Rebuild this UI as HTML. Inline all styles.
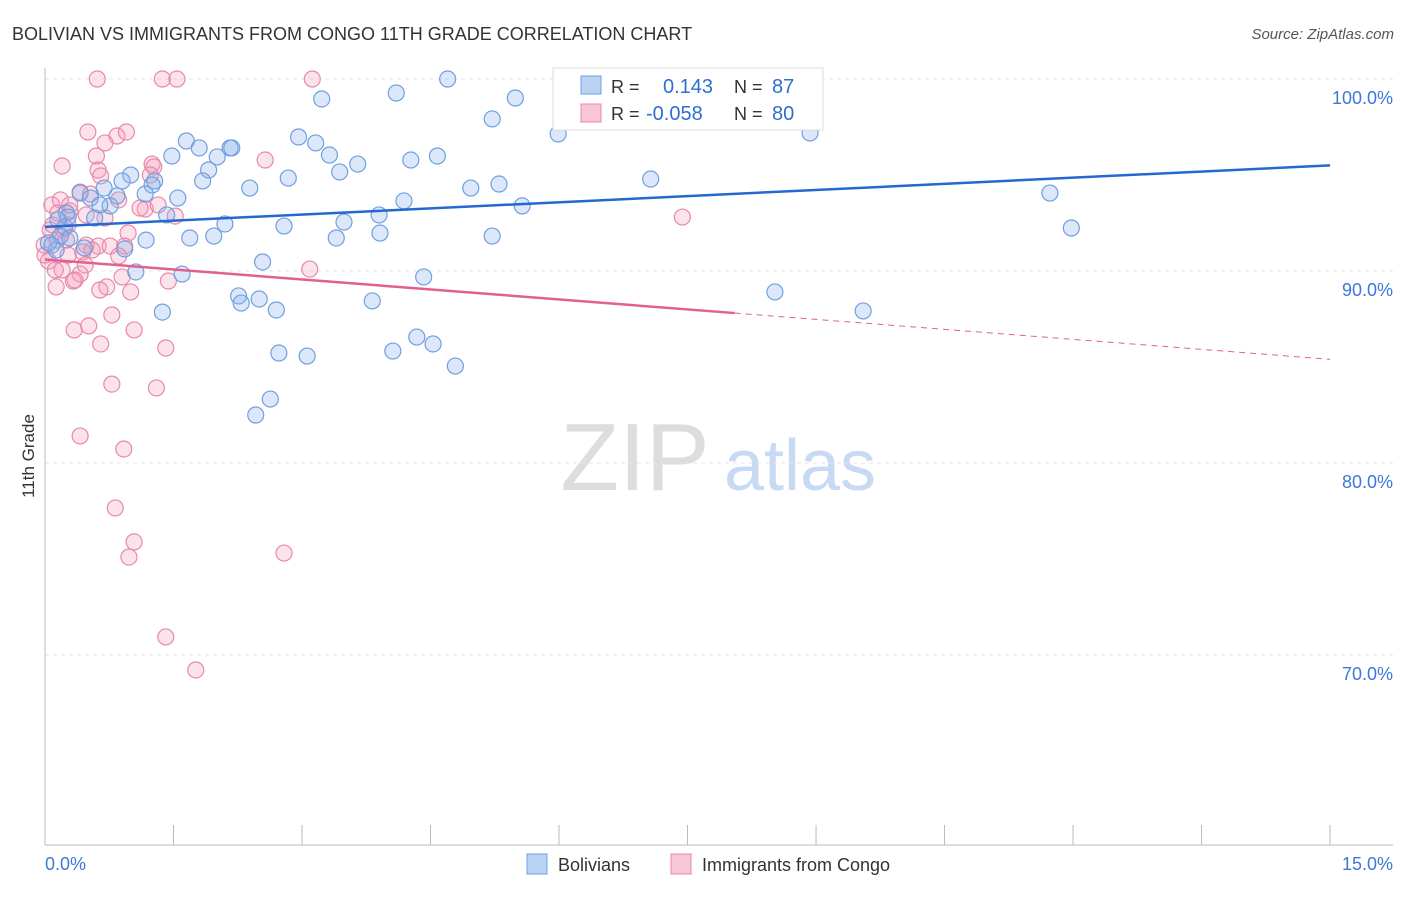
<!DOCTYPE html>
<html><head><meta charset="utf-8"><style>
body{margin:0;background:#fff;font-family:"Liberation Sans",sans-serif;}
svg text{font-family:"Liberation Sans",sans-serif;}
</style></head><body>
<svg id="c" width="1406" height="892">
<text x="12" y="40" font-size="18" fill="#333">BOLIVIAN VS IMMIGRANTS FROM CONGO 11TH GRADE CORRELATION CHART</text>
<text x="1394" y="39" font-size="15" fill="#555" font-style="italic" text-anchor="end">Source: ZipAtlas.com</text>
<text x="0" y="0" transform="translate(34,456) rotate(-90)" font-size="17" fill="#333" text-anchor="middle">11th Grade</text>
<g><text x="635" y="490" font-size="96" fill="#ddd" font-family="Liberation Serif" text-anchor="middle">ZIP</text><text x="800" y="490" font-size="72" fill="#c8daf3" text-anchor="middle">atlas</text></g>
<g id="grid"></g><g id="pts"></g><g id="lines"></g>
<g>
<rect x="553" y="68" width="270" height="62" fill="#fff" stroke="#ddd"/>
<rect x="581" y="76" width="20" height="18" fill="#b9d3f5" stroke="#6f9fe0"/>
<rect x="581" y="104" width="20" height="18" fill="#f9c6d6" stroke="#e889aa"/>
<text x="611" y="93" font-size="18" fill="#333">R = </text><text x="663" y="93" font-size="20" fill="#2f6fd1">0.143</text>
<text x="734" y="93" font-size="18" fill="#333">N = </text><text x="772" y="93" font-size="20" fill="#2f6fd1">87</text>
<text x="611" y="120" font-size="18" fill="#333">R = </text><text x="646" y="120" font-size="20" fill="#2f6fd1">-0.058</text>
<text x="734" y="120" font-size="18" fill="#333">N = </text><text x="772" y="120" font-size="20" fill="#2f6fd1">80</text>
</g>
<g>
<rect x="527" y="854" width="20" height="20" fill="#b9d3f5" stroke="#6f9fe0"/><text x="558" y="871" font-size="18" fill="#333">Bolivians</text>
<rect x="671" y="854" width="20" height="20" fill="#f9c6d6" stroke="#e889aa"/><text x="702" y="871" font-size="18" fill="#333">Immigrants from Congo</text>
</g>
</svg>
<script>
const yTicks=[100,90,80,70];
const yTickLabels=["100.0%","90.0%","80.0%","70.0%"];
const xTickLabels=["0.0%","15.0%"];
const bluePx=[[448,79],[738,79],[396,93],[322,99],[515,98],[492,119],[558,134],[810,133],[299,137],[186,141],[316,143],[230,148],[199,148],[172,156],[329,155],[217,157],[437,156],[411,160],[358,164],[340,172],[209,170],[131,175],[288,178],[122,181],[155,181],[152,185],[203,181],[651,179],[250,188],[104,188],[471,188],[499,184],[80,193],[145,194],[117,196],[178,198],[1050,193],[404,201],[110,206],[522,206],[66,213],[167,215],[379,215],[225,224],[284,226],[344,222],[65,227],[1071,228],[60,236],[380,233],[492,236],[146,240],[190,238],[214,236],[336,238],[52,245],[84,248],[125,249],[56,250],[263,262],[136,272],[182,274],[424,277],[239,296],[241,303],[259,299],[372,301],[775,292],[276,310],[162,312],[863,311],[417,337],[433,344],[279,353],[307,356],[393,351],[455,366],[270,399],[256,415],[68,217],[95,218],[48,243],[70,238],[90,198],[58,220],[100,205],[232,148]];
const pinkPx=[[97,79],[162,79],[177,79],[312,79],[88,132],[117,136],[126,132],[105,143],[96,156],[62,166],[152,164],[154,167],[265,160],[98,170],[101,176],[80,192],[90,194],[119,200],[52,205],[145,209],[158,205],[175,216],[682,217],[105,218],[70,211],[58,213],[86,215],[68,225],[63,230],[128,233],[57,240],[86,245],[98,246],[110,246],[125,246],[83,252],[119,256],[48,261],[62,270],[80,274],[310,269],[168,281],[122,277],[73,281],[56,287],[107,287],[131,292],[112,315],[74,330],[89,326],[134,330],[101,344],[166,348],[112,384],[156,388],[80,436],[124,449],[115,508],[134,542],[129,557],[284,553],[166,637],[196,670],[50,230],[45,255],[66,240],[60,200],[75,280],[92,250],[55,270],[70,205],[44,245],[85,265],[100,290],[140,208],[53,225],[68,255],[150,175]];
const toX=p=>+((p-45)/85.67).toFixed(2), toY=p=>+(100-(p-79)/19.2).toFixed(2);
const blueX=bluePx.map(p=>toX(p[0])), blueY=bluePx.map(p=>toY(p[1]));
const pinkX=pinkPx.map(p=>toX(p[0])), pinkY=pinkPx.map(p=>toY(p[1]));
const blueTrend=[92.3,95.5]; const pinkTrend=[90.6,85.4]; const pinkSolidEnd=8.05;
const X=v=>45+v*85.67, Y=v=>79+(100-v)*19.2;
const NS="http://www.w3.org/2000/svg";
function mk(t,a,p){const e=document.createElementNS(NS,t);for(const k in a)e.setAttribute(k,a[k]);p.appendChild(e);return e;}
const g=document.getElementById('grid');
yTicks.forEach((t,i)=>{const l=mk('line',{x1:45,x2:1393,y1:Y(t),y2:Y(t),stroke:'#e6e6e6','stroke-dasharray':'4,4'},g);

const tx=mk('text',{x:1393,y:Y(t)+25,'font-size':18,fill:'#3c78d8','text-anchor':'end'},g);tx.textContent=yTickLabels[i];
});
const ax=mk('line',{x1:45,x2:1393,y1:845,y2:845,stroke:'#bbb'},g);
const ay=mk('line',{x1:45,x2:45,y1:68,y2:845,stroke:'#bbb'},g);
for(let i=0;i<=10;i++){const l=mk('line',{x1:X(i*1.5),x2:X(i*1.5),y1:825,y2:845,stroke:'#bbb'},g);}
[[0,45,'start'],[1,1393,'end']].forEach(([i,x,a])=>{const t=mk('text',{x:x,y:870,'font-size':18,fill:'#3c78d8','text-anchor':a},g);t.textContent=xTickLabels[i];});
const pg=document.getElementById('pts');
pinkX.forEach((x,i)=>{const c=mk('circle',{cx:X(x),cy:Y(pinkY[i]),r:8,fill:'rgba(244,160,190,0.3)',stroke:'#e889aa','stroke-width':1.2},pg);});
blueX.forEach((x,i)=>{const c=mk('circle',{cx:X(x),cy:Y(blueY[i]),r:8,fill:'rgba(140,180,235,0.3)',stroke:'#6f9fe0','stroke-width':1.2},pg);});
const lg=document.getElementById('lines');
const b=mk('line',{x1:X(0),y1:Y(blueTrend[0]),x2:X(15),y2:Y(blueTrend[1]),stroke:'#2468d0','stroke-width':2.5},lg);
const pm=pinkTrend[0]+(pinkTrend[1]-pinkTrend[0])*pinkSolidEnd/15;
const p1=mk('line',{x1:X(0),y1:Y(pinkTrend[0]),x2:X(pinkSolidEnd),y2:Y(pm),stroke:'#e06090','stroke-width':2.5},lg);
const p2=mk('line',{x1:X(pinkSolidEnd),y1:Y(pm),x2:X(15),y2:Y(pinkTrend[1]),stroke:'#e06090','stroke-width':1,'stroke-dasharray':'6,5'},lg);
</script>
</body></html>
